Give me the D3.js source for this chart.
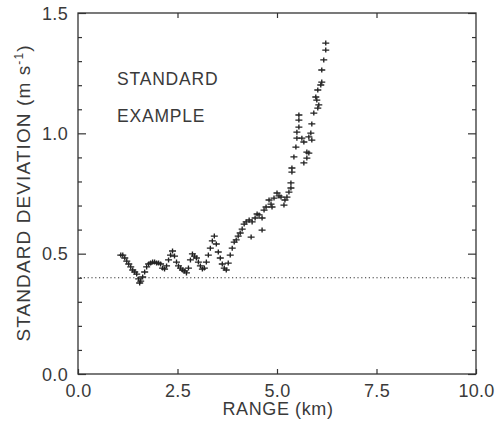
<!DOCTYPE html>
<html><head><meta charset="utf-8">
<script src="https://cdn.jsdelivr.net/npm/d3@7"></script>
<style>body{margin:0;background:#fff}svg{display:block}text{font-family:"Liberation Sans",Arial,sans-serif;fill:#3a3a3a}</style>
</head><body><svg id="c" width="499" height="423"></svg>
<script>
const xTicks=[0,2.5,5,7.5,10];
const xTickLabels=["0.0","2.5","5.0","7.5","10.0"];
const yTicks=[0,0.5,1.0,1.5];
const yTickLabels=["0.0","0.5","1.0","1.5"];
const yMinor=[0.1,0.2,0.3,0.4,0.6,0.7,0.8,0.9,1.1,1.2,1.3,1.4];
const refLevel=0.4;
const annotation=["STANDARD","EXAMPLE"];
const rangeKm=[1.075,1.125,1.175,1.225,1.275,1.325,1.375,1.425,1.475,1.525,1.55,1.575,1.625,1.675,1.725,1.775,1.825,1.875,1.925,1.975,2.025,2.075,2.125,2.175,2.225,2.275,2.325,2.375,2.425,2.475,2.525,2.575,2.625,2.675,2.725,2.775,2.825,2.875,2.925,2.975,3.025,3.075,3.125,3.175,3.225,3.275,3.325,3.375,3.425,3.475,3.525,3.575,3.625,3.675,3.725,3.775,3.825,3.875,3.925,3.975,4.025,4.075,4.125,4.175,4.225,
4.30,4.35,4.375,4.45,4.50,4.55,4.625,4.625,4.675,4.725,4.80,4.85,4.875,4.925,5.00,5.05,5.10,5.175,5.20,5.25,5.30,5.35,5.35,5.375,5.375,5.425,5.475,5.50,5.50,5.55,5.55,5.55,5.625,5.675,5.675,5.75,5.75,5.80,5.80,5.85,5.875,5.875,5.925,6.025,6.05,6.00,5.975,6.025,6.10,6.125,6.125,6.175,6.225,6.225];
const stdDev=[0.494,0.494,0.482,0.469,0.457,0.445,0.432,0.424,0.415,0.395,0.378,0.386,0.403,0.424,0.445,0.457,0.461,0.465,0.465,0.461,0.461,0.457,0.440,0.436,0.449,0.474,0.494,0.511,0.490,0.465,0.449,0.440,0.432,0.428,0.420,0.440,0.474,0.499,0.490,0.482,0.465,0.449,0.436,0.440,0.465,0.494,0.523,0.553,0.573,0.540,0.507,0.482,0.457,0.440,0.432,0.461,0.494,0.523,0.548,0.557,0.573,0.586,0.602,0.623,0.632,
0.640,0.569,0.632,0.648,0.665,0.661,0.648,0.598,0.681,0.694,0.723,0.706,0.694,0.731,0.752,0.740,0.735,0.702,0.723,0.735,0.756,0.773,0.794,0.839,0.856,0.902,0.943,0.980,1.005,1.026,1.055,1.076,0.980,0.964,0.877,0.897,0.922,0.918,0.985,1.001,0.972,1.039,1.084,1.105,1.118,1.138,1.151,1.180,1.201,1.213,1.263,1.305,1.346,1.375];

const svg=d3.select("#c");
const L=78,R=476,T=13,B=374;
const x=d3.scaleLinear().domain([0,10]).range([L,R]);
const y=d3.scaleLinear().domain([0,1.5]).range([B,T]);
const ink="#333";

svg.append("rect").attr("x",L).attr("y",T).attr("width",R-L).attr("height",B-T)
  .attr("fill","none").attr("stroke",ink).attr("stroke-width",1.3);

const axB=d3.axisBottom(x).tickValues(xTicks).tickSize(-5).tickFormat((d,i)=>xTickLabels[i]).tickPadding(10);
const gB=svg.append("g").attr("transform",`translate(0,${B})`).call(axB);
const axT=d3.axisTop(x).tickValues(xTicks.slice(1,4)).tickSize(-5).tickFormat("");
const gT=svg.append("g").attr("transform",`translate(0,${T})`).call(axT);
const axL=d3.axisLeft(y).tickValues(yTicks).tickSize(-8).tickFormat((d,i)=>yTickLabels[i]).tickPadding(10);
const gL=svg.append("g").attr("transform",`translate(${L},0)`).call(axL);
const axLm=d3.axisLeft(y).tickValues(yMinor).tickSize(-4).tickFormat("");
const gLm=svg.append("g").attr("transform",`translate(${L},0)`).call(axLm);
const axR=d3.axisRight(y).tickValues(yTicks).tickSize(-8).tickFormat("");
const gR=svg.append("g").attr("transform",`translate(${R},0)`).call(axR);
const axRm=d3.axisRight(y).tickValues(yMinor).tickSize(-4).tickFormat("");
const gRm=svg.append("g").attr("transform",`translate(${R},0)`).call(axRm);
[gB,gT,gL,gLm,gR,gRm].forEach(g=>{
  g.select(".domain").remove();
  g.selectAll(".tick line").attr("stroke",ink).attr("stroke-width",1.2);
  g.selectAll(".tick text").style("font-size","18px").style("letter-spacing","0.3px").attr("fill","#3a3a3a");
});
gB.selectAll(".tick text").attr("dy","0.71em");
gL.selectAll(".tick text").attr("dy","0.35em");

svg.append("line").attr("x1",x(0)+2).attr("x2",R-2).attr("y1",y(refLevel)).attr("y2",y(refLevel))
  .attr("stroke",ink).attr("stroke-width",1.1).attr("stroke-dasharray","1.2,2.6");

const pts=rangeKm.map((r,i)=>[r,stdDev[i]]);
svg.append("g").selectAll("path").data(pts).join("path")
  .attr("d",d=>{const cx=x(d[0]),cy=y(d[1]);return `M${cx-3.5},${cy}H${cx+3.5}M${cx},${cy-2.5}V${cy+2.5}`;})
  .attr("stroke","#222").attr("stroke-width",1.35).attr("fill","none");

svg.append("text").attr("x",117).attr("y",85).style("font-size","17.5px").style("letter-spacing","0.8px").text(annotation[0]);
svg.append("text").attr("x",117).attr("y",122).style("font-size","17.5px").style("letter-spacing","0.8px").text(annotation[1]);

svg.append("text").attr("x",278).attr("y",415).attr("text-anchor","middle").style("font-size","18px").style("letter-spacing","0.6px").text("RANGE (km)");
const yt=svg.append("text").attr("transform","translate(30,193) rotate(-90)").attr("text-anchor","middle").style("font-size","19px").style("letter-spacing","1.1px");
yt.append("tspan").text("STANDARD DEVIATION (m s");
yt.append("tspan").attr("dy","-7").style("font-size","12px").text("-1");
yt.append("tspan").attr("dy","7").text(")");
</script></body></html>
